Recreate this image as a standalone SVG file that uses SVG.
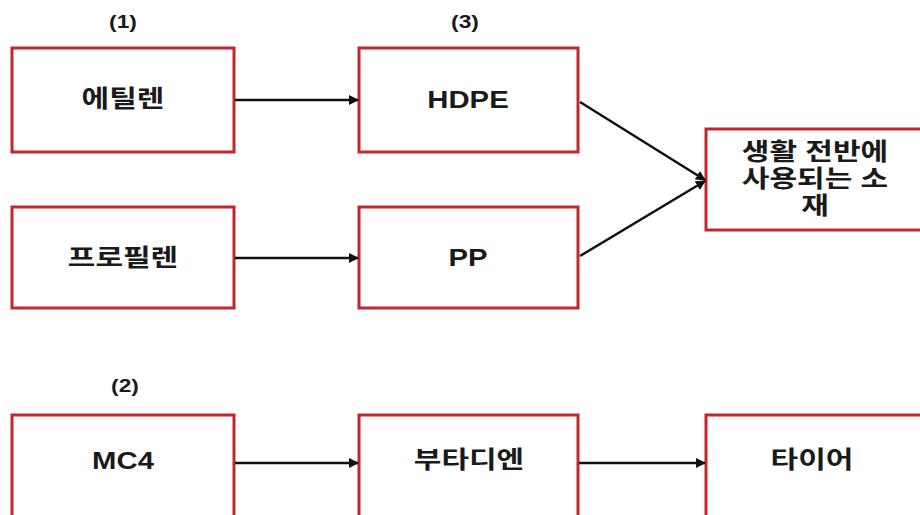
<svg xmlns="http://www.w3.org/2000/svg" width="920" height="515" viewBox="0 0 920 515">
<style>
.box{fill:#fff;stroke:#c1272d;stroke-width:3}
.t{font-family:"Liberation Sans","Noto Sans CJK KR",sans-serif;font-weight:bold;font-size:24px;fill:#1a1a1a;text-anchor:middle;dominant-baseline:central}
.lbl{font-family:"Liberation Sans","Noto Sans CJK KR",sans-serif;font-weight:bold;font-size:19px;fill:#1a1a1a;text-anchor:middle;dominant-baseline:central}
.c{stroke:#111;stroke-width:2.5;fill:none;marker-end:url(#ah)}
</style>
<defs>
<marker id="ah" viewBox="0 0 10 10" refX="9" refY="5" markerWidth="4" markerHeight="4" orient="auto" markerUnits="strokeWidth">
<path d="M0,0 L10,5 L0,10 z" fill="#111"/>
</marker>
</defs>
<rect width="920" height="515" fill="#fff"/>
<text class="lbl" transform="translate(123,21) scale(1.2,1)">(1)</text>
<text class="lbl" transform="translate(465,21) scale(1.2,1)">(3)</text>
<text class="lbl" transform="translate(125,385) scale(1.2,1)">(2)</text>
<g id="ethylene"><rect class="box" x="12" y="48" width="222" height="104"/><text class="t" transform="translate(123,99) scale(1.25,1)">에틸렌</text></g>
<g id="propylene"><rect class="box" x="12" y="207" width="222" height="101"/><text class="t" transform="translate(123,258) scale(1.25,1)">프로필렌</text></g>
<g id="hdpe"><rect class="box" x="359" y="48" width="219" height="104"/><text class="t" transform="translate(468,100) scale(1.22,1)">HDPE</text></g>
<g id="pp"><rect class="box" x="359" y="207" width="219" height="101"/><text class="t" transform="translate(468,258) scale(1.22,1)">PP</text></g>
<g id="material"><rect class="box" x="706" y="129" width="222" height="101"/>
<text class="t" transform="translate(815,152) scale(1.25,1)">생활 전반에</text><text class="t" transform="translate(815,179) scale(1.25,1)">사용되는 소</text><text class="t" transform="translate(815,206) scale(1.25,1)">재</text></g>
<g id="mc4"><rect class="box" x="12" y="415" width="222" height="110"/><text class="t" transform="translate(123,461) scale(1.22,1)">MC4</text></g>
<g id="butadiene"><rect class="box" x="359" y="415" width="219" height="110"/><text class="t" transform="translate(469,460) scale(1.25,1)">부타디엔</text></g>
<g id="tire"><rect class="box" x="706" y="415" width="222" height="110"/><text class="t" transform="translate(812,460) scale(1.25,1)">타이어</text></g>
<g id="connectors">
<line class="c" x1="235" y1="100" x2="358" y2="100"/>
<line class="c" x1="235" y1="258" x2="358" y2="258"/>
<line class="c" x1="580" y1="102" x2="705" y2="180"/>
<line class="c" x1="580" y1="256" x2="705" y2="181"/>
<line class="c" x1="235" y1="463" x2="358" y2="463"/>
<line class="c" x1="579" y1="463" x2="705" y2="463"/>
</g>
</svg>
